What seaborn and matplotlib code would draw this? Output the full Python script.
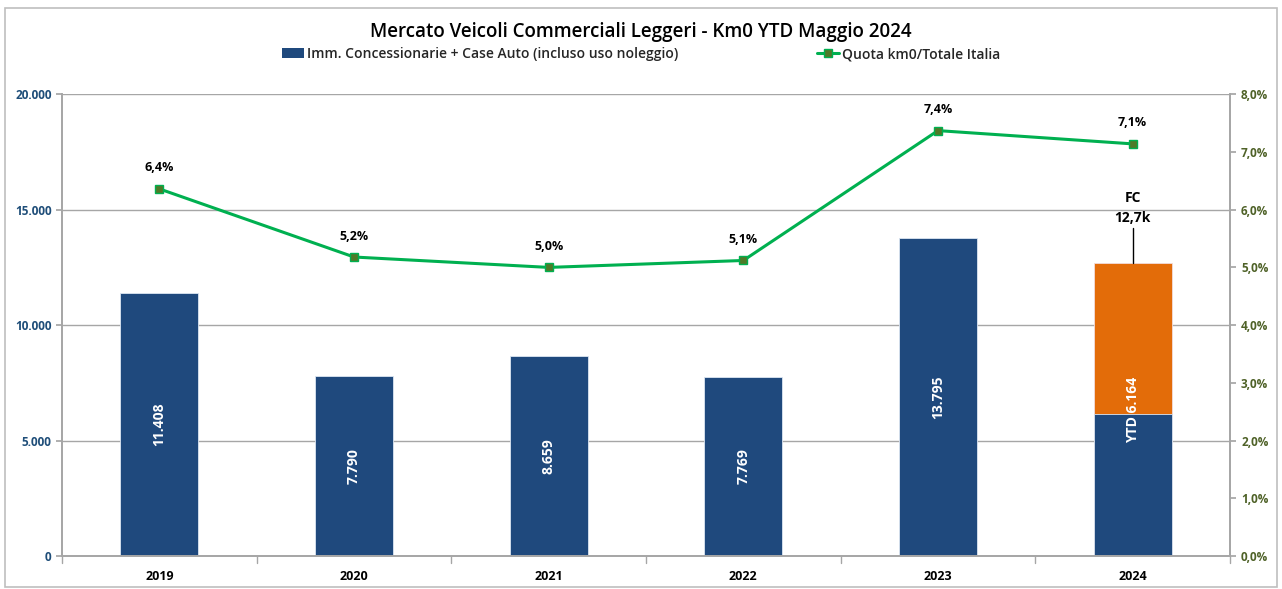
import matplotlib
matplotlib.use("Agg")
import matplotlib.pyplot as plt
import seaborn as sns
import pandas as pd
import numpy as np
from matplotlib.patches import Rectangle, Patch
from matplotlib.lines import Line2D

years = ["2019", "2020", "2021", "2022", "2023", "2024"]
immatricolazioni = [11408, 7790, 8659, 7769, 13795, 6164]
bar_labels = ["11.408", "7.790", "8.659", "7.769", "13.795", "YTD 6.164"]
forecast = [np.nan, np.nan, np.nan, np.nan, np.nan, 12700]
forecast_label = "FC\n12,7k"
quota = [6.36, 5.18, 5.00, 5.12, 7.37, 7.14]
quota_labels = ["6,4%", "5,2%", "5,0%", "5,1%", "7,4%", "7,1%"]

title = "Mercato Veicoli Commerciali Leggeri - Km0 YTD Maggio 2024"
bar_name = "Imm. Concessionarie + Case Auto (incluso uso noleggio)"
line_name = "Quota km0/Totale Italia"

sns.set_theme(style="white")
plt.rcParams['font.family'] = ['Open Sans', 'DejaVu Sans']

BLUE = "#1F497D"
ORANGE = "#E36C09"
GREEN = "#00B050"
MARKER = "#4F7A28"
LEFTTICK = "#1F4E79"
RIGHTTICK = "#4F6228"
GRID = "#A6A6A6"

fig = plt.figure(figsize=(12.82, 5.89), dpi=100)
fig.patches.append(Rectangle((0.004, 0.004), 0.992, 0.982, transform=fig.transFigure,
                             fill=False, edgecolor="#BFBFBF", linewidth=1.2))
ax = fig.add_axes([0.0484, 0.056, 0.9110, 0.784])

df = pd.DataFrame({"year": years, "imm": immatricolazioni, "fc": forecast})
sns.barplot(data=df, x="year", y="fc", color=ORANGE, width=0.4, ax=ax,
            saturation=1, edgecolor="#F2DCDB", linewidth=0.6)
sns.barplot(data=df, x="year", y="imm", color=BLUE, width=0.4, ax=ax,
            saturation=1, edgecolor="#DCE6F2", linewidth=0.6)

ax.set_ylim(0, 20000)
ax.set_xlim(-0.5, len(years) - 0.5)
ax.set_yticks([0, 5000, 10000, 15000, 20000])
ax.set_yticklabels(["0", "5.000", "10.000", "15.000", "20.000"],
                   color=LEFTTICK, fontsize=8.5, fontweight="bold")
ax.set_xlabel("")
ax.set_ylabel("")
ax.set_xticks(range(len(years)))
ax.set_xticklabels(years, fontsize=9, fontweight="bold", color="black")
ax.tick_params(axis="x", length=0, pad=10)
ax.tick_params(axis="y", length=4, color=GRID, direction="out", left=True)
ax.yaxis.grid(True, color=GRID, linewidth=1.0)
ax.set_axisbelow(True)
ax.spines["top"].set_visible(False)
for s in ["left", "bottom", "right"]:
    ax.spines[s].set_color(GRID)
# category boundary ticks
for b in np.arange(-0.5, len(years), 1.0):
    ax.plot([b, b], [0, -300], color=GRID, lw=1, clip_on=False)

# bar value labels (centered in the full stacked bar)
for i, (v, f, lab) in enumerate(zip(immatricolazioni, forecast, bar_labels)):
    top = f if not np.isnan(f) else v
    ax.text(i, top / 2, lab, rotation=90, ha="center", va="center",
            color="white", fontsize=10, fontweight="bold")

# forecast annotation
fc_val = forecast[-1]
ax.plot([5, 5], [fc_val, fc_val + 1500], color="black", lw=1)
ax.text(5, fc_val + 1650, forecast_label, ha="center", va="bottom",
        fontsize=10, fontweight="bold", color="black", linespacing=1.5)

ax2 = ax.twinx()
ldf = pd.DataFrame({"x": range(len(years)), "q": quota})
sns.lineplot(data=ldf, x="x", y="q", ax=ax2, color=GREEN, linewidth=2.2,
             marker="s", markersize=6, markerfacecolor=MARKER,
             markeredgecolor=GREEN, markeredgewidth=1)
ax2.set_ylim(0, 8)
ax2.set_xlim(-0.5, len(years) - 0.5)
ax2.set_yticks(np.arange(0, 9, 1))
ax2.set_yticklabels([f"{v:.1f}%".replace(".", ",") for v in np.arange(0, 9, 1)],
                    color=RIGHTTICK, fontsize=8.5, fontweight="bold")
ax2.tick_params(axis="y", length=4, color=GRID, direction="out", right=True, pad=4)
ax2.set_xlabel("")
ax2.set_ylabel("")
ax2.grid(False)
ax2.spines["top"].set_visible(False)
for s in ["left", "bottom", "right"]:
    ax2.spines[s].set_color(GRID)
for i, (q, lab) in enumerate(zip(quota, quota_labels)):
    ax2.text(i, q + 0.25, lab, ha="center", va="bottom", fontsize=9,
             fontweight="bold", color="black")

fig.text(0.5, 0.945, title, ha="center", va="center", fontsize=13.5,
         fontweight="semibold", color="black")

handles = [Patch(facecolor=BLUE, edgecolor="none"),
           Line2D([], [], color=GREEN, lw=2.2, marker="s", markersize=6,
                  markerfacecolor=MARKER, markeredgecolor=GREEN)]
fig.legend(handles, [bar_name, line_name], loc="center",
           bbox_to_anchor=(0.5, 0.908), ncol=2, frameon=False,
           columnspacing=10, handlelength=1.6, handletextpad=0.2,
           prop={"size": 10, "weight": "semibold"})

fig.savefig("out.png", dpi=100)
